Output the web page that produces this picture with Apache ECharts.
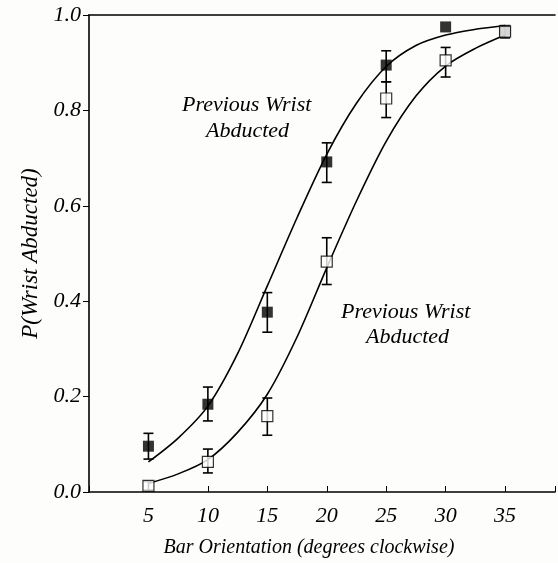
<!DOCTYPE html>
<html>
<head>
<meta charset="utf-8">
<script src="https://cdn.jsdelivr.net/npm/echarts@6/dist/echarts.min.js"></script>
<style>
html, body { margin: 0; padding: 0; background: #fdfdfb; }
#main { width: 558px; height: 563px; }
</style>
</head>
<body>
<div id="main"></div>
<script>
// orientations where data were taken
var orient = [5, 10, 15, 20, 25, 30, 35];

// filled squares, with error bar ends
var filledMean = [0.096, 0.184, 0.377, 0.692, 0.895, 0.975, 0.968];
var filledLow  = [0.069, 0.149, 0.335, 0.649, 0.860, null, null];
var filledHigh = [0.123, 0.220, 0.418, 0.732, 0.925, null, null];

// open squares, with error bar ends
var openMean = [0.013, 0.063, 0.159, 0.483, 0.825, 0.905, 0.965];
var openLow  = [0.004, 0.040, 0.119, 0.435, 0.785, 0.870, 0.952];
var openHigh = [0.022, 0.090, 0.197, 0.533, 0.860, 0.932, 0.975];

// fitted curves
var curveX      = [5, 7.5, 10, 12.5, 15, 17.5, 20, 22.5, 25, 27.5, 30, 32.5, 35];
var filledCurve = [0.063, 0.113, 0.180, 0.290, 0.432, 0.575, 0.708, 0.815, 0.892, 0.936, 0.958, 0.970, 0.978];
var openCurve   = [0.018, 0.038, 0.068, 0.125, 0.205, 0.325, 0.470, 0.610, 0.735, 0.830, 0.893, 0.930, 0.958];

var xTicks = [5, 10, 15, 20, 25, 30, 35];

var serif = '"Liberation Serif", "DejaVu Serif", serif';

function pairs(xs, ys) {
	var out = [];
	for (var i = 0; i < xs.length; i++) {
		out.push([xs[i], ys[i]]);
	}
	return out;
}

function errData(low, high) {
	var out = [];
	for (var i = 0; i < orient.length; i++) {
		if (low[i] != null) out.push([orient[i], low[i], high[i]]);
	}
	return out;
}

function renderErr(params, api) {
	var x = api.value(0);
	var lo = api.coord([x, api.value(1)]);
	var hi = api.coord([x, api.value(2)]);
	var cap = 5;
	var style = { stroke: '#000', lineWidth: 1.6 };
	return {
		type: 'group',
		children: [
			{ type: 'line', shape: { x1: lo[0], y1: lo[1], x2: hi[0], y2: hi[1] }, style: style },
			{ type: 'line', shape: { x1: lo[0] - cap, y1: lo[1], x2: lo[0] + cap, y2: lo[1] }, style: style },
			{ type: 'line', shape: { x1: hi[0] - cap, y1: hi[1], x2: hi[0] + cap, y2: hi[1] }, style: style }
		]
	};
}

var textStyle = { fontFamily: serif, fontStyle: 'italic', fontSize: 22, fill: '#000' };

option = {
	backgroundColor: '#fdfdfb',
	animation: false,
	grid: { left: 89, right: 0, top: 15, bottom: 70 },
	xAxis: [ {
		type: 'value',
		min: 0,
		max: 39.2,
		interval: 5,
		splitLine: { show: false },
		axisLine: { lineStyle: { color: '#000', width: 1.6 } },
		axisTick: { inside: true, length: 6, lineStyle: { color: '#000' } },
		axisLabel: {
			margin: 13,
			fontFamily: serif, fontStyle: 'italic', fontSize: 22, color: '#000',
			formatter: function(v) { return xTicks.indexOf(v) >= 0 ? String(v) : ''; }
		},
		name: 'Bar Orientation (degrees clockwise)',
		nameLocation: 'middle',
		nameGap: 46,
		nameTextStyle: { fontFamily: serif, fontStyle: 'italic', fontSize: 20, color: '#000', padding: [0, 26, 0, 0] }
	}, {
		type: 'value',
		position: 'top',
		min: 0,
		max: 39.2,
		axisLine: { show: true, lineStyle: { color: '#000', width: 1.6 } },
		axisTick: { show: false },
		axisLabel: { show: false },
		splitLine: { show: false }
	} ],
	yAxis: [ {
		type: 'value',
		min: 0,
		max: 1,
		interval: 0.2,
		splitLine: { show: false },
		axisLine: { show: true, lineStyle: { color: '#000', width: 1.6 } },
		axisTick: { show: true, length: 6, lineStyle: { color: '#000' } },
		axisLabel: {
			margin: 8,
			fontFamily: serif, fontStyle: 'italic', fontSize: 22, color: '#000',
			formatter: function(v) { return v.toFixed(1); }
		},
		name: 'P(Wrist Abducted)',
		nameLocation: 'middle',
		nameRotate: 90,
		nameGap: 43,
		nameTextStyle: { fontFamily: serif, fontStyle: 'italic', fontSize: 23, color: '#000' }
	} ],
	graphic: [
		{ type: 'text', left: 182, top: 94, style: Object.assign({ text: 'Previous Wrist' }, textStyle) },
		{ type: 'text', left: 206, top: 120, style: Object.assign({ text: 'Abducted' }, textStyle) },
		{ type: 'text', left: 341, top: 301, style: Object.assign({ text: 'Previous Wrist' }, textStyle) },
		{ type: 'text', left: 366, top: 326, style: Object.assign({ text: 'Abducted' }, textStyle) }
	],
	series: [ {
		name: 'filled fit',
		type: 'line',
		smooth: 0.3,
		showSymbol: false,
		data: pairs(curveX, filledCurve),
		lineStyle: { color: '#000', width: 1.6 },
		z: 2
	}, {
		name: 'open fit',
		type: 'line',
		smooth: 0.3,
		showSymbol: false,
		data: pairs(curveX, openCurve),
		lineStyle: { color: '#000', width: 1.6 },
		z: 2
	}, {
		name: 'filled err',
		type: 'custom',
		renderItem: renderErr,
		data: errData(filledLow, filledHigh),
		z: 3
	}, {
		name: 'open err',
		type: 'custom',
		renderItem: renderErr,
		data: errData(openLow, openHigh),
		z: 3
	}, {
		name: 'filled',
		type: 'scatter',
		symbol: 'rect',
		symbolSize: 11,
		data: pairs(orient, filledMean),
		itemStyle: { color: '#000' },
		z: 4
	}, {
		name: 'open',
		type: 'scatter',
		symbol: 'rect',
		symbolSize: 11,
		data: pairs(orient, openMean),
		itemStyle: { color: '#fff', borderColor: '#000', borderWidth: 1.2 },
		z: 5
	} ]
};

myChart = echarts.init(document.getElementById('main'));
myChart.setOption(option, true);

window.onresize = function() {
	myChart.resize();
}
</script>
</body>
</html>
